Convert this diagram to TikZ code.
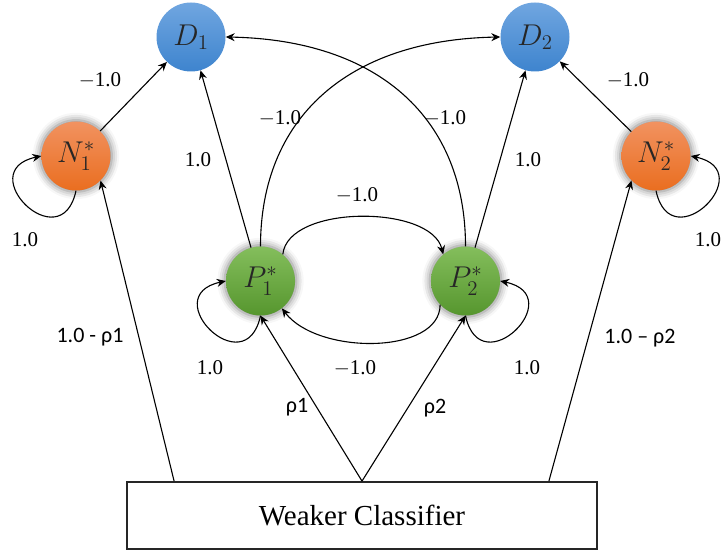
\documentclass[tikz,border=0pt]{standalone}
\usepackage{fontspec}
\setmainfont{Liberation Serif}
\newfontfamily\calib{Carlito}
\usetikzlibrary{arrows.meta,shadows.blur,calc}

\definecolor{dtop}{RGB}{112,166,224}
\definecolor{dbot}{RGB}{62,132,206}
\definecolor{ntop}{RGB}{241,146,96}
\definecolor{nbot}{RGB}{234,110,32}
\definecolor{ptop}{RGB}{132,190,92}
\definecolor{pbot}{RGB}{86,150,46}

% enlarged math label for a state
\newcommand\stlabel[1]{\scalebox{1.45}{$#1$}}

\begin{document}
\begin{tikzpicture}[x=1pt,y=1pt,
  state/.style={circle, minimum size=69pt, inner sep=0pt, draw=none,
    shading=axis, text=black!85, font=\fontsize{20}{24}\selectfont},
  halo/.style={blur shadow={shadow xshift=0pt, shadow yshift=0pt,
    shadow blur radius=7pt, shadow opacity=50, shadow scale=1.04}},
  dnode/.style={state, top color=dtop, bottom color=dbot},
  nnode/.style={state, halo, top color=ntop, bottom color=nbot},
  pnode/.style={state, halo, top color=ptop, bottom color=pbot},
  arr/.style={-{Stealth[length=9pt,width=8pt,inset=3pt]}, line width=1.1pt},
  lbl/.style={font=\fontsize{21}{24}\selectfont},
  slbl/.style={font=\calib\fontsize{22}{26}\selectfont},
  box/.style={draw=black!85, line width=1.8pt, minimum width=470pt,
    minimum height=67pt, font=\fontsize{29}{34}\selectfont},
]
\useasboundingbox (0,0) rectangle (722,553);

% states
\node[dnode] (D1) at (191,516) {\stlabel{D_1}};
\node[dnode] (D2) at (535,516) {\stlabel{D_2}};
\node[nnode] (N1) at (76,397) {\stlabel{N_1^*}};
\node[nnode] (N2) at (656,397) {\stlabel{N_2^*}};
\node[pnode] (P1) at (260.5,272) {\stlabel{P_1^*}};
\node[pnode] (P2) at (465.5,272) {\stlabel{P_2^*}};
\node[box] (wc) at (362,37.5) {Weaker Classifier};

% straight edges into the D nodes
\draw[arr] (N1) -- (D1);
\draw[arr] (P1) -- (D1);
\draw[arr] (P2) -- (D2);
\draw[arr] (N2) -- (D2);

% crossing arcs
\draw[arr] (P2.north) .. controls ($(P2.north)+(0,127)$) and ($(D1.east)+(154,-3)$) .. (D1.east);
\draw[arr] (P1.north) .. controls ($(P1.north)+(0,127)$) and ($(D2.west)+(-154,-3)$) .. (D2.west);

% between P1 and P2
\draw[arr] (P1.50) .. controls ($(P1.50)+(5,50)$) and ($(P2.130)+(-12,50)$) .. (P2.130);
\draw[arr] (P2.223) .. controls ($(P2.223)+(0,-50)$) and ($(P1.308)+(36,-47)$) .. (P1.308);

% self loops
\draw[arr] (N1.south) .. controls ($(N1.south)+(-15,-70)$) and ($(N1.west)+(-70,-15)$) .. (N1.west);
\draw[arr] (N2.south) .. controls ($(N2.south)+(15,-70)$) and ($(N2.east)+(70,-15)$) .. (N2.east);
\draw[arr] (P1.south) .. controls ($(P1.south)+(-15,-70)$) and ($(P1.west)+(-70,-15)$) .. (P1.west);
\draw[arr] (P2.south) .. controls ($(P2.south)+(15,-70)$) and ($(P2.east)+(70,-15)$) .. (P2.east);

% from the classifier
\coordinate (cl) at ($(wc.north west)+(48,0)$);
\coordinate (cr) at ($(wc.north east)+(-49,0)$);
\draw[arr] (cl) -- (N1.-45);
\draw[arr] (cr) -- (N2.-135);
\draw[arr] (wc.north) -- (P1.south);
\draw[arr] (wc.north) -- (P2.south);

% weights
\node[lbl] (w1) at (100,473) {$-$1.0};
\node[lbl] (w2) at (198,393) {1.0};
\node[lbl] (w3) at (280,435) {$-$1.0};
\node[lbl] (w4) at (445,435) {$-$1.0};
\node[lbl] (w5) at (357,358) {$-$1.0};
\node[lbl] (w6) at (355,185) {$-$1.0};
\node[lbl] (w7) at (528,393) {1.0};
\node[lbl] (w8) at (628,473) {$-$1.0};
\node[lbl] (w9) at (25,313) {1.0};
\node[lbl] (w10) at (708,313) {1.0};
\node[lbl] (w11) at (210,185) {1.0};
\node[lbl] (w12) at (527,185) {1.0};
\node[slbl] (r1) at (90,216) {1.0 - ρ1};
\node[slbl] (r2) at (640,215) {1.0 – ρ2};
\node[slbl] (r3) at (297,146) {ρ1};
\node[slbl] (r4) at (435,145) {ρ2};
\end{tikzpicture}
\end{document}
